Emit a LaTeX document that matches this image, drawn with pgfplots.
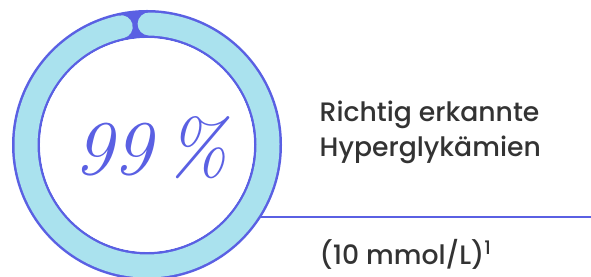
\documentclass[border=0pt]{standalone}
\usepackage{pgfplots}
\pgfplotsset{compat=1.18}
\usepackage{fontspec}
\newfontfamily\pop{Poppins}[UprightFont=* Medium]
\definecolor{ringpurple}{HTML}{5A60E3}
\definecolor{ringblue}{HTML}{AAE2EE}
\definecolor{txt}{HTML}{333333}
\begin{document}
\begin{tikzpicture}
\begin{axis}[hide axis, scale only axis, width=443.25pt, height=207.75pt,
  xmin=0, xmax=591, ymin=0, ymax=277, clip=true, at={(0,0)}, anchor=south west]
% connector line
\addplot[ringpurple, line width=1.6pt] coordinates {(250,60) (591,60)};
% ring outline
\fill[ringpurple, even odd rule] (axis cs:147,132) circle[radius=101.25pt] (axis cs:147,132) circle[radius=80.25pt];
\fill[white] (axis cs:147,132) circle[radius=80.1pt];
% 99 % arc
\draw[ringblue, line width=17.25pt, line cap=round] ([shift={(89:90.75pt)}]axis cs:147,132) arc[start angle=89, end angle=-257.7, radius=90.75pt];
\node[ringpurple, font=\fontsize{58}{60}\selectfont\itshape] at (axis cs:151,129) {99\,\%};
\node[anchor=base west, txt, font=\pop\fontsize{20}{24}\selectfont] at (axis cs:315,155.3) {Richtig erkannte};
\node[anchor=base west, txt, font=\pop\fontsize{20}{24}\selectfont] at (axis cs:315,120.3) {Hyperglykämien};
\node[anchor=base west, txt, font=\pop\fontsize{20}{24}\selectfont] at (axis cs:315,12) {(10 mmol/L)\textsuperscript{1}};
\end{axis}
\pgfresetboundingbox
\path[use as bounding box] (0,0) rectangle (443.25pt,207.75pt);
\end{tikzpicture}
\end{document}
